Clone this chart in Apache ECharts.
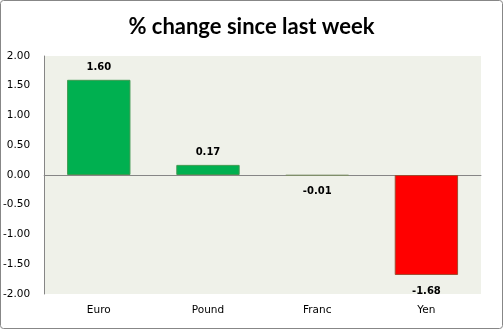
<!DOCTYPE html>
<html>
<head>
<meta charset="utf-8">
<script src="https://cdn.jsdelivr.net/npm/echarts@6/dist/echarts.min.js"></script>
<style>
html,body{margin:0;padding:0;background:#fff;}
#c{width:503px;height:329px;}
</style>
</head>
<body>
<div id="c"></div>
<script>
var categories = ['Euro', 'Pound', 'Franc', 'Yen'];
var values = [1.60, 0.17, -0.01, -1.68];
var yTicks = { min: -2, max: 2, interval: 0.5 };
var titleText = '% change since last week';

var chart = echarts.init(document.getElementById('c'), null, { renderer: 'canvas' });
var barData = values.map(function (v) {
  return {
    value: v,
    itemStyle: v >= 0
      ? { color: '#00B050', borderColor: '#3F9A50', borderWidth: 1 }
      : (v > -0.05 ? { color: '#7F9A6A', borderColor: '#7F8F6A', borderWidth: 1 }
                   : { color: '#FF0000', borderColor: '#A04A30', borderWidth: 1 }),
    label: v >= 0 ? { position: 'top', distance: 7 } : { position: 'bottom', distance: 11 }
  };
});
chart.setOption({
  animation: false,
  backgroundColor: '#ffffff',
  title: {
    text: titleText,
    left: 'center',
    top: 11,
    textStyle: { fontFamily: 'Lato', fontWeight: 'bold', fontSize: 22, color: '#000' }
  },
  graphic: [{
    type: 'rect',
    shape: { x: 0.5, y: 0.5, width: 502, height: 328, r: 3 },
    style: { fill: null, stroke: '#878787', lineWidth: 1 },
    silent: true
  }],
  grid: {
    left: 43, right: 22, top: 56, bottom: 35,
    show: true, backgroundColor: '#EFF1E9', borderWidth: 0
  },
  xAxis: {
    type: 'category',
    data: categories,
    axisLine: { onZero: true, lineStyle: { color: '#868686', width: 1 } },
    axisTick: { show: false },
    axisLabel: {
      fontFamily: 'DejaVu Sans', fontSize: 10.5, color: '#000',
      margin: 11
    },
    position: 'bottom'
  },
  yAxis: {
    type: 'value',
    min: yTicks.min, max: yTicks.max, interval: yTicks.interval,
    axisLine: { show: true, lineStyle: { color: '#868686', width: 1 } },
    axisTick: { show: false },
    splitLine: { show: false },
    axisLabel: {
      fontFamily: 'DejaVu Sans', fontSize: 10.5, color: '#000', margin: 14,
      formatter: function (v) { return v.toFixed(2); }
    }
  },
  series: [{
    type: 'bar',
    data: barData,
    barWidth: '58%',
    label: {
      show: true,
      fontFamily: 'DejaVu Sans', fontWeight: 'bold', fontSize: 10, color: '#000',
      formatter: function (p) { return p.value.toFixed(2); }
    }
  }]
});
</script>
</body>
</html>
